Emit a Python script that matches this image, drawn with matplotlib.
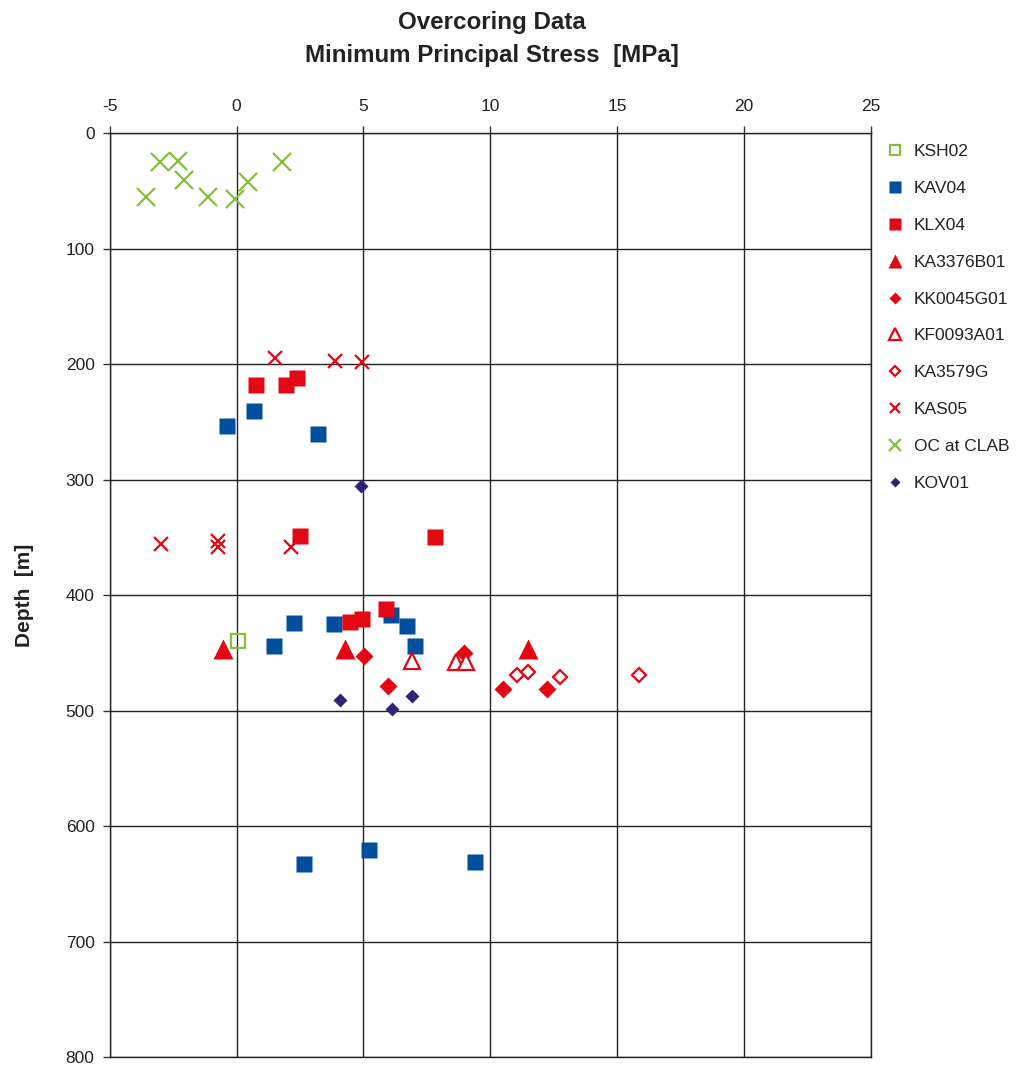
import matplotlib.pyplot as plt

plt.rcParams['font.family'] = ['Liberation Sans', 'DejaVu Sans']
plt.rcParams['axes.unicode_minus'] = False

# stress [MPa], depth [m]
ksh02_x = [0.05]
ksh02_d = [440]

kav04_x = [0.67, -0.36, 3.2, 2.26, 3.85, 6.07, 6.7, 1.48, 7.03, 2.66, 5.21, 9.4]
kav04_d = [241, 254, 261, 424, 425, 417, 427, 444, 444, 633, 621, 631]

klx04_x = [0.75, 1.95, 2.37, 2.5, 7.82, 4.48, 4.95, 5.91]
klx04_d = [218, 218, 212, 349, 350, 423, 421, 412]

ka3376_x = [-0.55, 4.29, 11.5]
ka3376_d = [447, 447, 447]

kk0045_x = [5.01, 8.97, 5.96, 10.49, 12.24]
kk0045_d = [453, 450, 479, 481, 481]

kf0093_x = [6.9, 8.64, 9.03]
kf0093_d = [457, 458, 458]

ka3579_x = [11.05, 11.48, 12.77, 15.87]
ka3579_d = [469, 467, 471, 469]

kas05_x = [1.5, 3.89, 4.95, -3.0, -0.73, -0.73, 2.14]
kas05_d = [195, 197, 198, 356, 353, 358, 358]

clab_x = [-3.04, -2.31, 1.8, -2.06, 0.45, -3.56, -1.11, -0.08]
clab_d = [25, 24, 25, 41, 42, 55, 55, 57]

kov01_x = [4.92, 4.06, 6.9, 6.11]
kov01_d = [306, 491, 487, 499]

stress_ticks = [-5, 0, 5, 10, 15, 20, 25]
depth_ticks = [0, 100, 200, 300, 400, 500, 600, 700, 800]

GREEN = '#86c03a'
BLUE = '#004f9f'
RED = '#e30613'
NAVY = '#2d2476'
TEXT = '#222222'


def main():
    fig = plt.figure(figsize=(10.17, 10.66), dpi=100)
    ax = fig.add_axes([0.108, 0.0084, 0.748, 0.8668])

    ax.plot(ksh02_x, ksh02_d, 's', ms=10.5, mfc='none', mec=GREEN, mew=1.6, label='KSH02')
    ax.plot(kav04_x, kav04_d, 's', ms=11.5, color=BLUE, mec='none', label='KAV04')
    ax.plot(klx04_x, klx04_d, 's', ms=11.5, color=RED, mec='none', label='KLX04')
    ax.plot(ka3376_x, ka3376_d, '^', ms=14, color=RED, mec='none', label='KA3376B01')
    ax.plot(kk0045_x, kk0045_d, 'D', ms=9, color=RED, mec='none', label='KK0045G01')
    ax.plot(kf0093_x, kf0093_d, '^', ms=12, mfc='white', mec=RED, mew=1.6, label='KF0093A01')
    ax.plot(ka3579_x, ka3579_d, 'D', ms=7.5, mfc='white', mec=RED, mew=1.6, label='KA3579G')
    ax.plot(kas05_x, kas05_d, 'x', ms=10, color=RED, mew=1.6, label='KAS05')
    ax.plot(clab_x, clab_d, 'x', ms=13, color=GREEN, mew=1.6, label='OC at CLAB')
    ax.plot(kov01_x, kov01_d, 'D', ms=7, color=NAVY, mec='none', label='KOV01')

    ax.set_xlim(-5, 25)
    ax.set_ylim(800, 0)
    ax.set_xticks(stress_ticks)
    ax.set_xticklabels([str(v) for v in stress_ticks])
    ax.set_yticks(depth_ticks)
    ax.set_yticklabels([str(v) for v in depth_ticks])
    ax.xaxis.tick_top()
    ax.tick_params(axis='both', labelsize=12.5, length=5, width=1, color='#333333',
                   labelcolor=TEXT, direction='out')
    ax.tick_params(axis='x', pad=9)
    ax.tick_params(axis='y', pad=6)
    ax.grid(True, color=TEXT, linewidth=1)
    ax.set_axisbelow(True)
    for s in ax.spines.values():
        s.set_color(TEXT)
        s.set_linewidth(1)

    ax.set_ylabel('Depth  [m]', fontsize=15, fontweight='bold', color=TEXT, labelpad=23)
    fig.suptitle('Overcoring Data\nMinimum Principal Stress  [MPa]', x=0.484, y=0.990,
                 fontsize=17.4, fontweight='bold', color=TEXT, linespacing=1.6)

    ax.legend(loc='upper left', bbox_to_anchor=(1.0, 1.005), frameon=False,
              fontsize=12.5, markerscale=0.7, handlelength=1.0, handletextpad=0.6,
              labelspacing=1.25, labelcolor=TEXT)

    fig.savefig('out.png', dpi=100)


if __name__ == '__main__':
    main()
